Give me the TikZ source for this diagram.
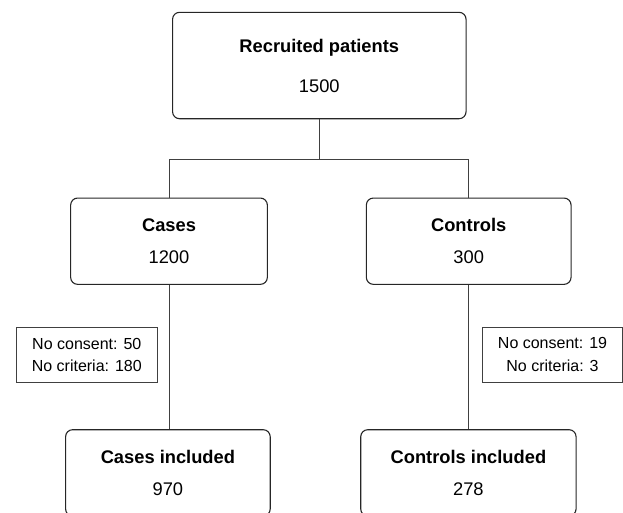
\documentclass[tikz,border=0pt]{standalone}
\usepackage{fontspec}
\setmainfont{Liberation Sans}
\begin{document}
\begin{tikzpicture}[x=1pt,y=1pt,
  box/.style={draw=black!85, line width=1.1pt, rounded corners=7pt, align=center, inner sep=0pt},
  bigfont/.style={font=\fontsize{18.3}{22}\selectfont},
  excl/.style={draw=black!75, line width=1pt, align=center, inner sep=0pt, font=\fontsize{16}{22.4}\selectfont},
  conn/.style={draw=black!75, line width=1pt}]
\useasboundingbox (0,0) rectangle (623,-512);
\clip (0,0) rectangle (623,-512);
\node[box, bigfont, minimum width=293.5pt, minimum height=106.4pt] (top) at (319.3,-65.5)
  {\textbf{Recruited patients}\\[18pt]1500};
\node[box, bigfont, minimum width=196.7pt, minimum height=86.3pt] (cases) at (169,-241.2)
  {\textbf{Cases}\\[9.7pt]1200};
\node[box, bigfont, minimum width=204.7pt, minimum height=86.3pt] (controls) at (468.7,-241.2)
  {\textbf{Controls}\\[9.7pt]300};
\node[box, bigfont, minimum width=204.6pt, minimum height=86.3pt] (casesinc) at (167.9,-472.85)
  {\textbf{Cases included}\\[9.7pt]970};
\node[box, bigfont, minimum width=215.3pt, minimum height=86.3pt] (controlsinc) at (468.4,-472.85)
  {\textbf{Controls included}\\[9.7pt]278};
\node[excl, minimum width=141pt, minimum height=55.4pt] (exclL) at (86.8,-354.9)
  {No consent: 50\\No criteria: 180};
\node[excl, minimum width=140.4pt, minimum height=55pt] (exclR) at (552.5,-354.5)
  {No consent: 19\\No criteria: 3};
\coordinate (split) at (319.3,-159.3);
\draw[conn] (top.south) -- (split);
\draw[conn] (cases.north) |- (split) -| (controls.north);
\draw[conn] (cases.south) -- (cases.south |- casesinc.north);
\draw[conn] (controls.south) -- (controls.south |- controlsinc.north);
\end{tikzpicture}
\end{document}
